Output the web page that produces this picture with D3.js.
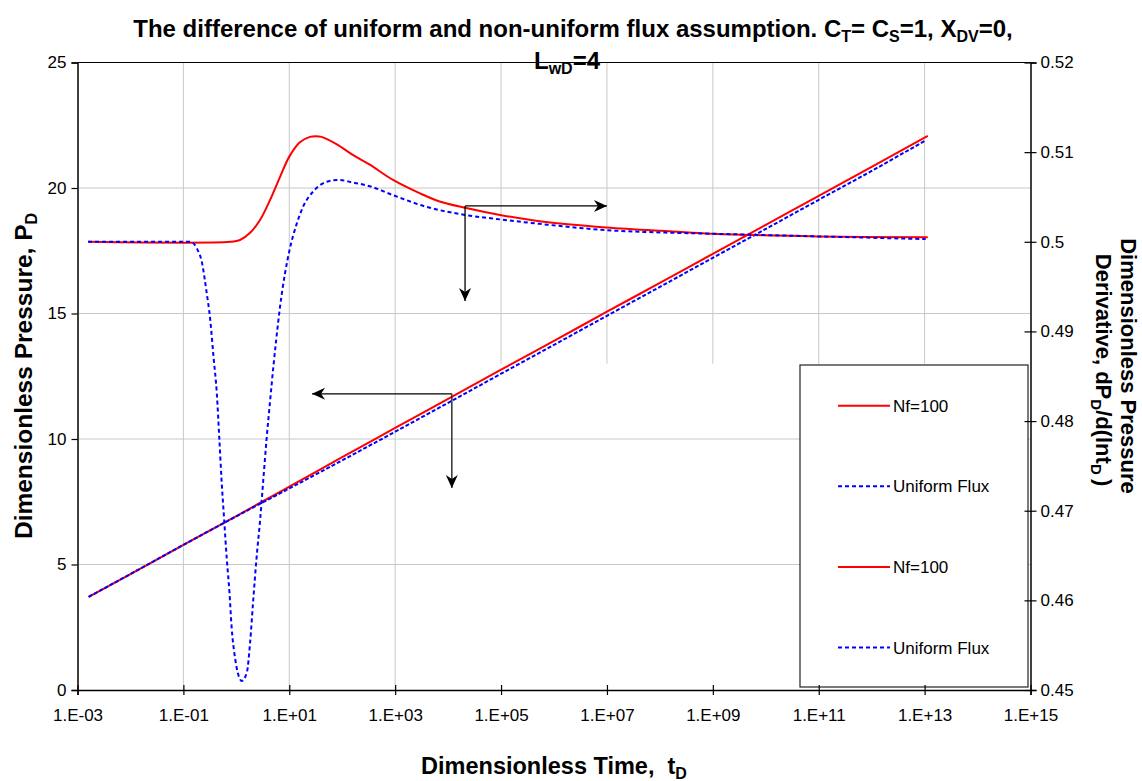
<!DOCTYPE html>
<html>
<head>
<meta charset="utf-8">
<script src="https://cdn.jsdelivr.net/npm/d3@7/dist/d3.min.js"></script>
<style>
body { margin: 0; background: #fff; }
text { font-family: "Liberation Sans", Arial, sans-serif; fill: #000; }
</style>
</head>
<body>
<div id="chart"></div>
<script>
// values (time given as log10 of tD)
var xTickValues = [1e-3, 1e-1, 1e1, 1e3, 1e5, 1e7, 1e9, 1e11, 1e13, 1e15];
var xTickLabels = ["1.E-03", "1.E-01", "1.E+01", "1.E+03", "1.E+05", "1.E+07", "1.E+09", "1.E+11", "1.E+13", "1.E+15"];
var pTicks = [0, 5, 10, 15, 20, 25];
var dTicks = [0.45, 0.46, 0.47, 0.48, 0.49, 0.50, 0.51, 0.52];
var dTickLabels = ["0.45", "0.46", "0.47", "0.48", "0.49", "0.5", "0.51", "0.52"];

var pressNfLogT = [-2.79, -2, -1, 0, 1, 2, 3, 4, 5, 6, 7, 8, 9, 10, 11, 12, 13.06];
var pressNf = [3.71, 4.62, 5.78, 6.93, 8.10, 9.28, 10.44, 11.60, 12.76, 13.91, 15.07, 16.22, 17.38, 18.53, 19.69, 20.84, 22.08];
var pressUniLogT = [-2.79, -2, -1, 0, 1, 2, 3, 4, 5, 6, 7, 8, 9, 10, 11, 12, 13.02];
var pressUni = [3.71, 4.62, 5.78, 6.92, 8.03, 9.15, 10.29, 11.44, 12.60, 13.75, 14.91, 16.06, 17.22, 18.37, 19.53, 20.68, 21.90];

var derivNfLogT = [-2.80, -0.12, 0.07, 0.26, 0.45, 0.64, 0.83, 1.00, 1.20, 1.39, 1.50, 1.61, 1.89, 2.20, 2.52, 2.96, 3.47, 3.84, 4.32, 4.98, 5.73, 6.99, 8.24, 8.97, 10.98, 13.06];
var derivNf = [0.5000, 0.5000, 0.5002, 0.5010, 0.50245, 0.5047, 0.5073, 0.5095, 0.5111, 0.5117, 0.51178, 0.5117, 0.5109, 0.5097, 0.5086, 0.5069, 0.5054, 0.5045, 0.5038, 0.5030, 0.5023, 0.5016, 0.50115, 0.5009, 0.5006, 0.5005];
var derivUniLogT = [-2.80, -0.87, -0.75, -0.65, -0.56, -0.50, -0.43, -0.37, -0.32, -0.28, -0.23, -0.18, -0.13, -0.09, -0.02, 0.07, 0.10, 0.20, 0.26, 0.32, 0.38, 0.45, 0.51, 0.57, 0.64, 0.70, 0.75, 0.82, 0.92, 1.01, 1.14, 1.26, 1.45, 1.71, 1.92, 2.21, 2.52, 2.96, 3.59, 4.32, 4.98, 5.73, 6.99, 8.25, 8.97, 10.98, 13.02];
var derivUni = [0.5000, 0.5000, 0.4993, 0.4977, 0.4943, 0.4917, 0.4871, 0.4832, 0.4779, 0.4735, 0.4690, 0.4646, 0.4609, 0.4571, 0.4534, 0.4512, 0.4510, 0.4520, 0.4553, 0.4601, 0.4646, 0.4690, 0.4735, 0.4779, 0.4824, 0.4861, 0.4889, 0.4925, 0.4965, 0.4992, 0.5020, 0.5039, 0.5056, 0.5067, 0.5069, 0.5066, 0.5062, 0.5052, 0.5039, 0.5030, 0.5025, 0.5020, 0.5013, 0.5010, 0.5009, 0.5006, 0.5003];

var legendNames = ["Nf=100", "Uniform Flux", "Nf=100", "Uniform Flux"];
var legendColors = ["#ff0000", "#0000ff", "#ff0000", "#0000ff"];
var legendDashed = [false, true, false, true];

// annotation arrows (corner in log10 tD / axis value, then tips)
var arrowDerivCorner = [4.32, 0.5040];
var arrowDerivRightTip = 7;
var arrowDerivDownTip = 0.4934;
var arrowPressCorner = [4.07, 11.8];
var arrowPressLeftTip = 1.43;
var arrowPressDownTip = 8.05;

var gridCutP = 13.0;   // vertical grid lines from 1E+05 on stop here

(function () {
    var svgWidth = 1142, svgHeight = 781;
    var plotLeft = 77.5, plotRight = 1030.5, plotTop = 62.5, plotBottom = 690;

    var svg = d3.select("#chart").append("svg")
        .attr("width", svgWidth)
        .attr("height", svgHeight);

    var x = d3.scaleLog().domain([1e-3, 1e15]).range([plotLeft, plotRight]);
    var yP = d3.scaleLinear().domain([0, 25]).range([plotBottom, plotTop]);
    var yD = d3.scaleLinear().domain([0.45, 0.52]).range([plotBottom, plotTop]);

    function pairs(logT, vals) {
        return logT.map(function (l, i) { return [Math.pow(10, l), vals[i]]; });
    }

    // grid
    svg.append("g").selectAll("line").data(pTicks.slice(1, 5)).enter().append("line")
        .attr("x1", plotLeft).attr("x2", plotRight)
        .attr("y1", d => yP(d)).attr("y2", d => yP(d))
        .attr("stroke", "#c8c8c8").attr("stroke-width", 1);
    svg.append("g").selectAll("line").data(xTickValues.slice(1, 9)).enter().append("line")
        .attr("x1", d => x(d)).attr("x2", d => x(d))
        .attr("y1", plotTop)
        .attr("y2", d => d >= 1e5 ? yP(gridCutP) : plotBottom)
        .attr("stroke", "#c8c8c8").attr("stroke-width", 1);

    // top border
    svg.append("line").attr("x1", plotLeft).attr("x2", plotRight).attr("y1", plotTop).attr("y2", plotTop)
        .attr("stroke", "#000").attr("stroke-width", 1.2);

    // curves
    var lineP = d3.line().x(d => x(d[0])).y(d => yP(d[1])).curve(d3.curveMonotoneX);
    var lineDsmooth = d3.line().x(d => x(d[0])).y(d => yD(d[1])).curve(d3.curveCatmullRom.alpha(0.5));
    var lineD = d3.line().x(d => x(d[0])).y(d => yD(d[1])).curve(d3.curveMonotoneX);

    svg.append("path").attr("d", lineP(pairs(pressNfLogT, pressNf)))
        .attr("fill", "none").attr("stroke", "#ff0000").attr("stroke-width", 2);
    svg.append("path").attr("d", lineP(pairs(pressUniLogT, pressUni)))
        .attr("fill", "none").attr("stroke", "#0000ff").attr("stroke-width", 2)
        .attr("stroke-dasharray", "4,2");
    svg.append("path").attr("d", lineDsmooth(pairs(derivNfLogT, derivNf)))
        .attr("fill", "none").attr("stroke", "#ff0000").attr("stroke-width", 2);
    svg.append("path").attr("d", lineD(pairs(derivUniLogT, derivUni)))
        .attr("fill", "none").attr("stroke", "#0000ff").attr("stroke-width", 2)
        .attr("stroke-dasharray", "4,3");

    // arrows
    var defs = svg.append("defs");
    defs.append("marker").attr("id", "head")
        .attr("viewBox", "-14 -7 16 14").attr("refX", 0).attr("refY", 0)
        .attr("markerWidth", 16).attr("markerHeight", 14)
        .attr("markerUnits", "userSpaceOnUse").attr("orient", "auto")
        .append("path").attr("d", "M0,0 L-13,-6 L-9,0 L-13,6 Z").attr("fill", "#000");

    var c1x = x(Math.pow(10, arrowDerivCorner[0])), c1y = yD(arrowDerivCorner[1]);
    svg.append("line").attr("x1", c1x).attr("y1", c1y)
        .attr("x2", x(Math.pow(10, arrowDerivRightTip))).attr("y2", c1y)
        .attr("stroke", "#000").attr("stroke-width", 1.3).attr("marker-end", "url(#head)");
    svg.append("line").attr("x1", c1x).attr("y1", c1y)
        .attr("x2", c1x).attr("y2", yD(arrowDerivDownTip))
        .attr("stroke", "#000").attr("stroke-width", 1.3).attr("marker-end", "url(#head)");

    var c2x = x(Math.pow(10, arrowPressCorner[0])), c2y = yP(arrowPressCorner[1]);
    svg.append("line").attr("x1", c2x).attr("y1", c2y)
        .attr("x2", x(Math.pow(10, arrowPressLeftTip))).attr("y2", c2y)
        .attr("stroke", "#000").attr("stroke-width", 1.3).attr("marker-end", "url(#head)");
    svg.append("line").attr("x1", c2x).attr("y1", c2y)
        .attr("x2", c2x).attr("y2", yP(arrowPressDownTip))
        .attr("stroke", "#333").attr("stroke-width", 1.5).attr("marker-end", "url(#head)");

    // legend
    var legend = svg.append("g");
    legend.append("rect").attr("x", 800).attr("y", 365).attr("width", 228).attr("height", 322)
        .attr("fill", "#fff").attr("stroke", "#222").attr("stroke-width", 1.2);
    legendNames.forEach(function (name, i) {
        var ly = 405.7 + i * 80.6;
        legend.append("line").attr("x1", 838).attr("x2", 890).attr("y1", ly).attr("y2", ly)
            .attr("stroke", legendColors[i]).attr("stroke-width", 2)
            .attr("stroke-dasharray", legendDashed[i] ? "4,3" : null);
        legend.append("text").attr("x", 893).attr("y", ly + 6)
            .style("font-size", "17px").text(name);
    });

    // axes
    var xAxis = svg.append("g").attr("transform", "translate(0," + plotBottom + ")")
        .call(d3.axisBottom(x).tickValues(xTickValues)
            .tickFormat(function (d, i) { return xTickLabels[i]; })
            .tickSize(5).tickPadding(14));
    xAxis.selectAll(".tick line").attr("y1", -5);

    var yAxisL = svg.append("g").attr("transform", "translate(" + plotLeft + ",0)")
        .call(d3.axisLeft(yP).tickValues(pTicks).tickSize(6).tickPadding(5));

    var yAxisR = svg.append("g").attr("transform", "translate(" + plotRight + ",0)")
        .call(d3.axisRight(yD).tickValues(dTicks)
            .tickFormat(function (d, i) { return dTickLabels[i]; })
            .tickSize(6).tickPadding(4));
    yAxisR.selectAll(".tick line").attr("x1", -6);

    [xAxis, yAxisL, yAxisR].forEach(function (a) {
        a.selectAll("text").style("font-size", "17px").style("font-family", "'Liberation Sans', Arial, sans-serif");
        a.select(".domain").attr("stroke", "#000").attr("stroke-width", 1.5);
        a.selectAll(".tick line").attr("stroke", "#000").attr("stroke-width", 1.2);
    });

    // titles
    var title = svg.append("text").attr("x", 573).attr("y", 37).attr("text-anchor", "middle")
        .style("font-size", "24px").style("font-weight", "bold");
    title.append("tspan").text("The difference of uniform and non-uniform flux assumption. C");
    title.append("tspan").attr("dy", 5).style("font-size", "16px").text("T");
    title.append("tspan").attr("dy", -5).text("= C");
    title.append("tspan").attr("dy", 5).style("font-size", "16px").text("S");
    title.append("tspan").attr("dy", -5).text("=1, X");
    title.append("tspan").attr("dy", 5).style("font-size", "16px").text("DV");
    title.append("tspan").attr("dy", -5).text("=0,");

    var title2 = svg.append("text").attr("x", 567).attr("y", 69).attr("text-anchor", "middle")
        .style("font-size", "24px").style("font-weight", "bold");
    title2.append("tspan").text("L");
    title2.append("tspan").attr("dy", 5).style("font-size", "16px").text("wD");
    title2.append("tspan").attr("dy", -5).text("=4");

    var xTitle = svg.append("text").attr("x", 554).attr("y", 774).attr("text-anchor", "middle")
        .style("font-size", "23.5px").style("font-weight", "bold").style("white-space", "pre");
    xTitle.append("tspan").text("Dimensionless Time,  t");
    xTitle.append("tspan").attr("dy", 5).style("font-size", "16px").text("D");

    var yTitleL = svg.append("text").attr("transform", "translate(32,376) rotate(-90)")
        .attr("text-anchor", "middle").style("font-size", "24.5px").style("font-weight", "bold");
    yTitleL.append("tspan").text("Dimensionless Pressure, P");
    yTitleL.append("tspan").attr("dy", 5).style("font-size", "16px").text("D");

    svg.append("text").attr("transform", "translate(1121,366) rotate(90)")
        .attr("text-anchor", "middle").style("font-size", "22px").style("font-weight", "bold")
        .text("Dimensionless Pressure");
    var yTitleR = svg.append("text").attr("transform", "translate(1096,370) rotate(90)")
        .attr("text-anchor", "middle").style("font-size", "22px").style("font-weight", "bold")
        .style("white-space", "pre");
    yTitleR.append("tspan").text("Derivative, dP");
    yTitleR.append("tspan").attr("dy", 5).style("font-size", "15px").text("D");
    yTitleR.append("tspan").attr("dy", -5).text("/d(lnt");
    yTitleR.append("tspan").attr("dy", 5).style("font-size", "15px").text("D ");
    yTitleR.append("tspan").attr("dy", -5).text(")");
})();
</script>
</body>
</html>
